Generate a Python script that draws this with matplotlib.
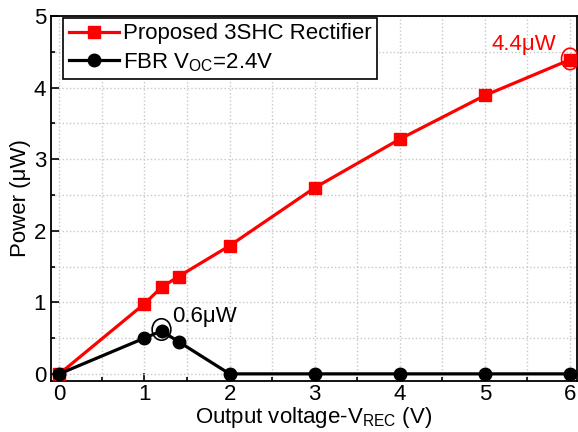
import matplotlib
matplotlib.use('Agg')
import matplotlib.pyplot as plt
from matplotlib.patches import Ellipse
from matplotlib.ticker import MultipleLocator

plt.rcParams['font.family'] = ['Liberation Sans', 'DejaVu Sans']
plt.rcParams['mathtext.fontset'] = 'custom'
plt.rcParams['mathtext.rm'] = 'Liberation Sans'

v_rec = [0, 1, 1.2, 1.4, 2, 3, 4, 5, 6]
p_3shc = [0, 0.98, 1.21, 1.36, 1.79, 2.6, 3.28, 3.89, 4.39]
p_fbr = [0, 0.5, 0.6, 0.45, 0, 0, 0, 0, 0]

fig = plt.figure(figsize=(5.78, 4.32), dpi=100)
ax = fig.add_axes([0.088, 0.118, 0.91, 0.845])

ax.plot(v_rec, p_3shc, color='red', marker='s', markersize=8, linewidth=2.3,
        label='Proposed 3SHC Rectifier', zorder=3)
ax.plot(v_rec, p_fbr, color='black', marker='o', markersize=9, linewidth=2.3,
        label=r'FBR V$_{\mathrm{OC}}$=2.4V', zorder=3)

# highlight circles
ax.add_patch(Ellipse((1.2, 0.62), 0.22, 0.3, fill=False, edgecolor='black', lw=1.2, zorder=4))
ax.add_patch(Ellipse((6.0, 4.4), 0.2, 0.3, fill=False, edgecolor='red', lw=1.2, zorder=4))
ax.text(1.32, 0.72, '0.6\u03bcW', fontsize=16, color='black')
ax.text(5.84, 4.53, '4.4\u03bcW', fontsize=16, color='red', ha='right')

ax.set_xlim(-0.1, 6.08)
ax.set_ylim(-0.1, 5)
ax.xaxis.set_major_locator(MultipleLocator(1))
ax.xaxis.set_minor_locator(MultipleLocator(0.5))
ax.yaxis.set_major_locator(MultipleLocator(1))
ax.yaxis.set_minor_locator(MultipleLocator(0.5))
ax.grid(True, which='both', linestyle=':', color='#c8c8c8', linewidth=1)
ax.tick_params(which='both', direction='in', labelsize=16, width=1.2)
ax.tick_params(axis='x', pad=2)
ax.tick_params(which='major', length=6)
ax.tick_params(which='minor', length=3)
for s in ax.spines.values():
    s.set_linewidth(1.3)

ax.set_xlabel(r'Output voltage-V$_{\mathrm{REC}}$ (V)', fontsize=16, labelpad=0)
ax.set_ylabel('Power (\u03bcW)', fontsize=16, labelpad=2)

leg = ax.legend(loc='upper left', bbox_to_anchor=(0.023, 0.995), fontsize=16,
                frameon=True, fancybox=False, edgecolor='black', framealpha=1,
                handlelength=2.25, handletextpad=0.2, borderaxespad=0,
                borderpad=0.25, labelspacing=0.3)
leg.get_frame().set_linewidth(1.2)

fig.savefig('out.png', dpi=100)
